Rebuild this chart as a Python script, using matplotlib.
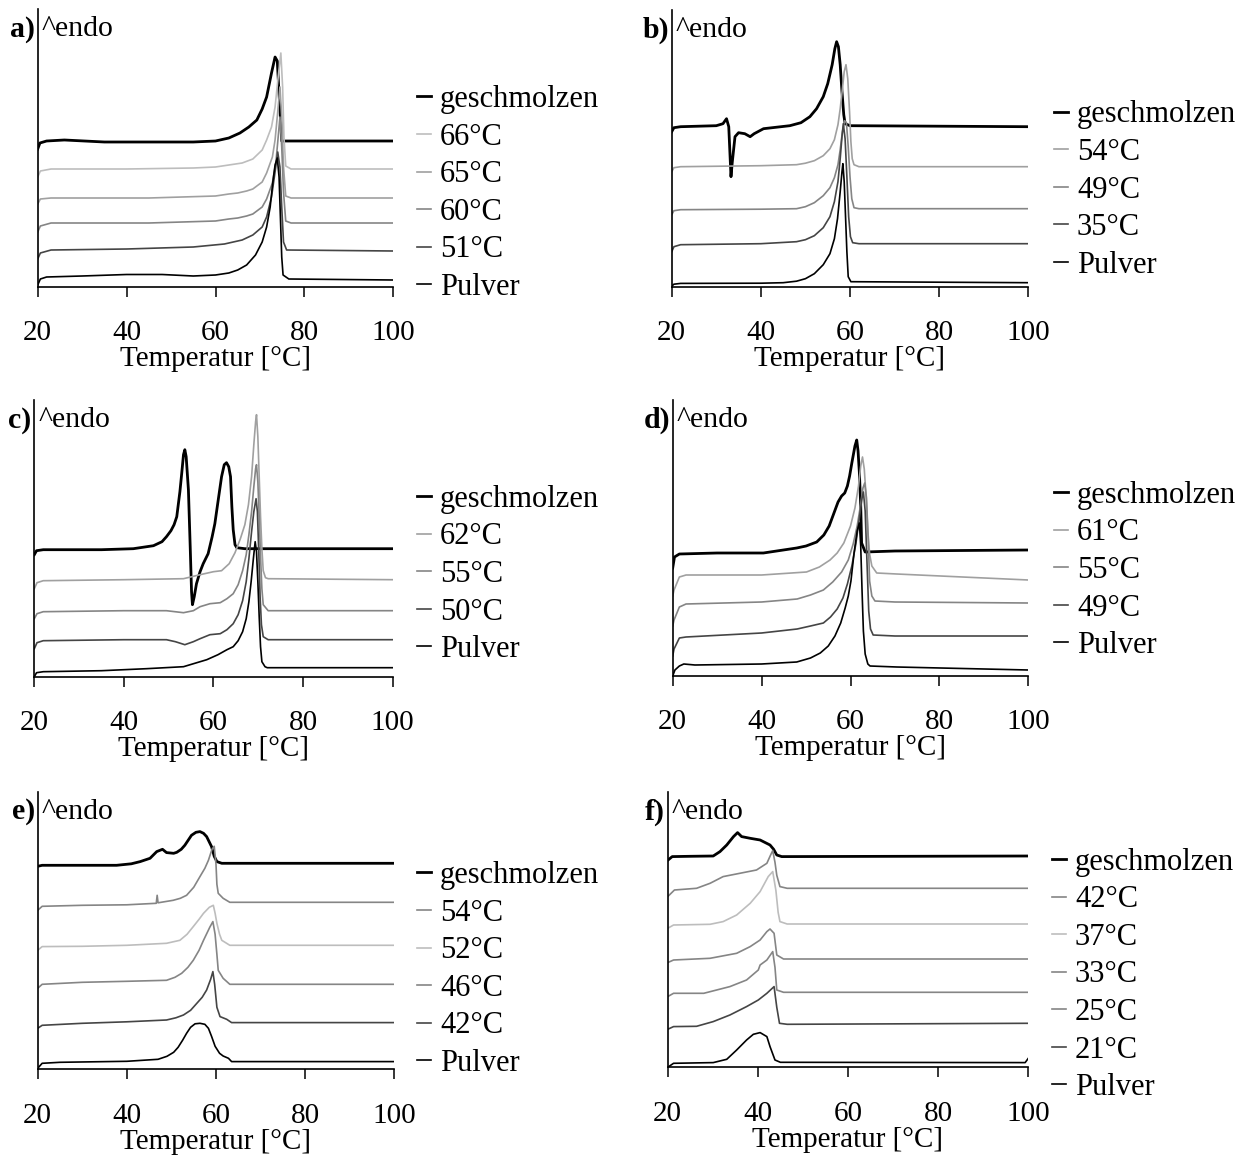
import matplotlib
matplotlib.use('Agg')
import matplotlib.pyplot as plt

plt.rcParams['font.family'] = ['Liberation Serif', 'DejaVu Serif']

# DSC curves: (temperature in degC, signal in arbitrary units)
# panel a
a_labels = ['geschmolzen', '66°C', '65°C', '60°C', '51°C', 'Pulver']
a_geschmolzen = [(20, 138), (20.5, 144), (22, 146), (26, 147), (35, 145), (45, 145), (55, 145), (60, 146),
                 (63, 149), (65.5, 154), (67.5, 160), (69.3, 167), (70.5, 178), (71.5, 190), (72.6, 214),
                 (73.4, 230), (73.9, 226), (74.4, 185), (74.9, 146), (80, 146), (100, 146)]
a_66 = [(20, 110), (20.6, 116), (23, 118), (40, 118), (55, 119), (60, 120), (63, 122), (66, 124), (68.4, 128),
        (70.5, 137), (71.5, 147), (72.6, 160), (73.4, 180), (74.1, 210), (74.7, 234), (75.1, 200), (75.4, 150),
        (75.8, 121), (77, 118), (100, 118)]
a_65 = [(20, 83), (20.6, 88), (23, 89), (45, 89), (60, 91), (63, 93), (65, 94), (67, 96), (68.4, 98), (70.5, 105),
        (71.5, 114), (72.8, 130), (73.4, 147), (74, 175), (74.5, 200), (74.9, 170), (75.3, 120), (75.8, 91),
        (77, 89), (100, 89)]
a_60 = [(20, 55), (20.6, 61), (23, 64), (45, 64), (60, 66), (63, 68), (65, 69), (67, 71), (68.4, 73), (70.5, 80),
        (71.5, 88), (72.8, 104), (73.6, 125), (74.1, 150), (74.5, 170), (74.9, 140), (75.3, 95), (75.8, 66),
        (77, 64), (100, 64)]
a_51 = [(20, 28), (20.6, 34), (23, 37), (40, 38), (55, 40), (62, 43), (64, 45), (66, 47), (68.4, 52), (70.5, 60),
        (71.5, 70), (72.6, 90), (73.4, 115), (74, 135), (74.5, 120), (74.9, 80), (75.3, 45), (76, 37), (100, 36)]
a_pulver = [(20, 2), (20.6, 8), (22, 10), (30, 11), (40, 12.5), (48, 12.5), (55, 11), (60, 12), (63, 14), (65, 17),
            (67, 22), (69, 32), (70.5, 45), (71.5, 60), (72.3, 80), (72.9, 105), (73.4, 122), (73.9, 129),
            (74.3, 110), (74.6, 70), (74.9, 30), (75.2, 12), (76.5, 8), (100, 7)]

# panel b
b_labels = ['geschmolzen', '54°C', '49°C', '35°C', 'Pulver']
b_geschmolzen = [(20, 155), (20.5, 159), (22, 160), (30, 161), (31.5, 163), (32.3, 168), (32.8, 160), (33.1, 130),
                 (33.3, 110), (33.6, 125), (34.2, 150), (35, 154), (36.4, 153), (37.6, 150), (38.5, 153),
                 (40.6, 158), (46.5, 161), (49, 164), (51, 170), (52.5, 178), (54, 190), (55, 203), (56, 222),
                 (56.6, 238), (57.0, 245), (57.4, 240), (57.8, 222), (58.2, 195), (58.6, 172), (58.9, 163),
                 (60, 161), (100, 160)]
b_54 = [(20, 115), (20.5, 119), (22, 120), (40, 121), (48, 122), (50, 123.5), (52, 126), (54, 131), (55.5, 138),
        (56.5, 147), (57.3, 162), (57.8, 178), (58.3, 198), (58.7, 215), (59.1, 222), (59.5, 208), (59.9, 175),
        (60.2, 145), (60.5, 128), (60.9, 122), (62, 120), (100, 120)]
b_49 = [(20, 72), (20.5, 76), (22, 77), (40, 77.5), (48, 78), (50, 80), (52, 84), (54, 91), (55.5, 99),
        (56.5, 109), (57.3, 122), (57.8, 137), (58.3, 155), (58.8, 166), (59.2, 164), (59.6, 140), (60, 110),
        (60.4, 88), (60.9, 79), (62, 78), (100, 78)]
b_35 = [(20, 35), (20.5, 40), (22, 42), (40, 43), (48, 45), (50, 47), (52, 51), (54, 59), (55.5, 70), (56.5, 85),
        (57.3, 105), (57.8, 128), (58.2, 150), (58.5, 163), (58.9, 148), (59.3, 110), (59.7, 70), (60.1, 50),
        (60.6, 44), (62, 43), (100, 43)]
b_pulver = [(20, 0.5), (20.5, 2.5), (22, 3.3), (40, 3.5), (45, 4), (48, 5.5), (50, 8), (52, 13), (54, 22),
            (55.5, 33), (56.5, 48), (57.2, 68), (57.8, 95), (58.2, 115), (58.4, 123), (58.7, 105), (59.0, 70),
            (59.3, 35), (59.6, 10), (60.2, 5), (100, 4)]

# panel c
c_labels = ['geschmolzen', '62°C', '55°C', '50°C', 'Pulver']
c_geschmolzen = [(20, 122), (20.5, 126), (22, 127), (35, 127), (42.1, 128), (46.6, 131), (48.5, 135), (49.5, 140),
                 (50.5, 146), (51.2, 152), (51.8, 160), (52.5, 185), (52.9, 203), (53.3, 222), (53.6, 227),
                 (53.9, 220), (54.4, 187), (54.8, 130), (55.1, 85), (55.3, 72), (55.7, 80), (56.2, 93), (57.0, 105),
                 (57.7, 113), (58.8, 123), (59.7, 140), (60.3, 153), (61.0, 175), (61.8, 200), (62.4, 212),
                 (62.9, 214), (63.4, 210), (63.8, 200), (64.1, 170), (64.4, 147), (64.8, 132), (65.2, 129),
                 (67, 128), (100, 128)]
c_62 = [(20, 88), (20.6, 94), (22, 96), (40, 97), (53.3, 98), (57, 102), (60, 105), (61.8, 106), (63.5, 113),
        (64.8, 124), (66, 138), (67, 152), (67.8, 172), (68.5, 200), (69.0, 232), (69.4, 255), (69.6, 262),
        (69.9, 240), (70.2, 200), (70.5, 160), (70.8, 128), (71.1, 106), (71.6, 99), (72.2, 98), (100, 97)]
c_55 = [(20, 58), (20.6, 63), (22, 65), (40, 66), (49.5, 66), (53.3, 64), (55.5, 66), (57, 70), (59.2, 73),
        (61.5, 74), (63, 78), (64.4, 83), (65.5, 92), (66.5, 106), (67.3, 122), (67.9, 142), (68.5, 165),
        (69.0, 190), (69.4, 208), (69.6, 212), (69.9, 195), (70.2, 160), (70.5, 120), (70.8, 88), (71.1, 72),
        (72.2, 66), (100, 66)]
c_50 = [(20, 28), (20.6, 34), (22, 36), (40, 37), (49.5, 37), (51.5, 35), (53.6, 32), (55.5, 35), (57, 38),
        (59.2, 42), (61.5, 43), (63, 47), (64.4, 53), (65.5, 62), (66.5, 76), (67.3, 95), (67.9, 118), (68.5, 145),
        (69.0, 165), (69.5, 178), (69.8, 165), (70.1, 125), (70.4, 80), (70.7, 52), (71.1, 40), (72.2, 37),
        (100, 37)]
c_pulver = [(20, 0), (20.5, 4), (22, 5), (35, 6), (45, 8), (53.3, 10), (58.5, 17), (61, 22), (63, 27), (64.4, 30),
            (65.5, 36), (66.5, 45), (67.3, 58), (67.9, 75), (68.4, 95), (68.9, 118), (69.3, 135), (69.6, 125),
            (69.9, 95), (70.2, 60), (70.5, 30), (70.8, 15), (71.5, 10), (72, 9), (100, 9)]

# panel d
d_labels = ['geschmolzen', '61°C', '55°C', '49°C', 'Pulver']
d_geschmolzen = [(20, 108), (20.4, 119), (21.5, 122), (30, 123), (40.4, 123), (47.9, 128), (50, 130), (52.4, 134),
                 (54, 141), (55.2, 150), (56.2, 162), (57.2, 174), (58, 180), (58.7, 183), (59.3, 190), (59.8, 200),
                 (60.3, 213), (61.0, 230), (61.4, 236), (61.7, 225), (62.0, 203), (62.3, 170), (62.5, 133),
                 (63.3, 124), (70, 125), (100, 126)]
d_61 = [(20, 80), (20.3, 86), (21.5, 99), (23, 101), (40, 101), (50.1, 104), (53, 109), (55.4, 116), (57, 123),
        (58.5, 133), (60, 150), (61, 168), (61.8, 190), (62.3, 210), (62.7, 219), (63.1, 207), (63.5, 180),
        (63.9, 145), (64.3, 122), (64.8, 110), (65.9, 103), (70.4, 102), (100, 96)]
d_55 = [(20, 50), (20.3, 56), (21.5, 69), (23, 72), (40, 74), (48, 77), (51, 81), (53.9, 86), (56, 94), (58, 104),
        (59.5, 116), (60.6, 132), (61.5, 150), (62.3, 172), (62.8, 188), (63.2, 193), (63.6, 178), (64.0, 135),
        (64.3, 95), (64.8, 80), (65.5, 75), (70, 74), (100, 73)]
d_49 = [(20, 20), (20.3, 27), (21.5, 38), (23, 39), (40, 43), (48, 47), (51, 50), (53.9, 53), (55.5, 59), (57, 67),
        (58.3, 78), (59.3, 92), (60.3, 110), (61.2, 132), (62, 158), (62.6, 178), (62.9, 184), (63.3, 165),
        (63.7, 115), (64.1, 65), (64.5, 47), (65.1, 41), (70, 40), (100, 40)]
d_pulver = [(20, 0), (20.5, 6), (21.5, 10), (22.5, 12), (25, 11), (40, 12), (47.9, 14), (51, 18), (53.2, 23),
            (55, 30), (56.5, 40), (57.8, 53), (58.8, 68), (59.5, 80), (60.1, 95), (60.8, 123), (61.5, 145),
            (62.0, 153), (62.3, 130), (62.6, 85), (62.9, 45), (63.3, 22), (63.9, 12), (64.4, 10), (70.4, 9),
            (100, 6)]

# panel e
e_labels = ['geschmolzen', '54°C', '52°C', '46°C', '42°C', 'Pulver']
e_geschmolzen = [(20, 203), (21, 204), (30, 204), (37.7, 204), (41, 205.5), (43, 207.7), (45.2, 211), (46.7, 217.7),
                 (48.0, 220), (48.9, 216.7), (50.5, 216), (51.2, 217), (52.2, 220), (53, 224), (54.5, 234),
                 (55.5, 237), (56.4, 237.7), (57.2, 236), (57.9, 232.7), (59, 222.7), (59.6, 213), (60.2, 207.7),
                 (61.3, 206), (100, 206)]
e_54 = [(20, 159), (21, 163), (30, 164), (40, 164.5), (46.6, 166), (46.8, 174), (47.0, 166.5), (50.4, 169),
        (52, 171), (53.4, 174), (55, 182), (56.4, 192.7), (57.5, 201), (58.3, 209), (59.1, 220), (59.6, 223),
        (60.0, 205), (60.2, 185), (60.5, 176), (61.6, 171), (63.1, 167), (100, 167)]
e_52 = [(20, 119), (21, 122.7), (30, 123), (40, 124), (48.9, 126), (51.9, 129), (53.5, 135), (54.9, 142.7),
        (56.2, 150), (57.2, 156), (58.5, 162), (59.4, 164), (59.8, 156), (60.2, 146), (60.8, 135), (61.3, 129),
        (63.1, 124), (100, 124)]
e_46 = [(20, 81), (21, 85), (30, 87), (40, 88), (48.9, 89), (50.8, 92), (52.3, 96), (53.7, 102), (54.9, 109),
        (56.2, 119), (57.2, 129), (58.6, 142), (59.3, 147.7), (59.8, 135), (60.2, 115), (60.5, 99), (61.6, 91),
        (63.1, 85), (100, 85)]
e_42 = [(20, 41), (21, 44), (30, 46), (40, 47.5), (48.9, 49.3), (51, 51.5), (52.7, 54.3), (54.3, 59), (55.7, 66),
        (56.9, 72), (57.9, 79.3), (58.8, 90), (59.3, 97.7), (59.7, 85), (60.2, 62), (60.9, 52.7), (62.4, 50),
        (63.5, 46.7), (100, 46.7)]
e_pulver = [(20, 1), (21, 6), (25, 7), (40, 8), (47, 10), (49, 13), (50.5, 17), (51.5, 22), (52.5, 29), (53.4, 36),
            (54.3, 42), (55.3, 45.5), (56.4, 46), (57.5, 45), (58.3, 41), (59.0, 33), (59.8, 23), (60.8, 16),
            (61.6, 13.3), (62.8, 11), (63.5, 7.7), (100, 7.7)]

# panel f
f_labels = ['geschmolzen', '42°C', '37°C', '33°C', '25°C', '21°C', 'Pulver']
f_geschmolzen = [(20, 207), (21, 210.7), (25, 211), (30.1, 211.3), (31.6, 215.7), (33.1, 222.3), (34.6, 230.7),
                 (35.5, 234.7), (36.4, 230.7), (38.3, 229), (40.5, 227.3), (42.7, 222.3), (43.5, 218),
                 (44.2, 212.3), (45.3, 210.7), (100, 211.3)]
f_42 = [(20, 170.7), (21.5, 177.3), (26.4, 179), (29.4, 184), (32.3, 190.7), (36, 194), (39.7, 197.3), (42, 204),
        (42.8, 212), (43.3, 216.7), (43.8, 205), (44.2, 192), (44.9, 180.7), (46.5, 179), (100, 179)]
f_37 = [(20, 139), (21.3, 142.3), (29.4, 143), (32.3, 145.7), (35.3, 152.3), (38.3, 164), (40.5, 175.7),
        (42.3, 190.7), (43.3, 195.7), (44.0, 177), (44.5, 155), (44.9, 145.7), (46.5, 143.3), (100, 143.3)]
f_33 = [(20, 104.7), (21.3, 107.3), (29.4, 109), (35.3, 114), (38.3, 120.7), (40.5, 127.3), (42, 135.7),
        (42.7, 138.3), (43.6, 134), (44.2, 112.3), (45.7, 108.3), (100, 108.3)]
f_25 = [(20, 70.7), (21.3, 74), (28, 74), (33.8, 80.7), (37.5, 87.3), (40.1, 97.3), (40.5, 102.3), (42, 107.3),
        (43.3, 115.7), (43.8, 100), (44.2, 77.3), (45.7, 75), (100, 75)]
f_21 = [(20, 38), (21.3, 40.7), (26.4, 41), (30.1, 45.7), (33.8, 52.3), (37.5, 60.7), (40.1, 67.3), (42, 74),
        (43.6, 80.7), (44.2, 60), (44.8, 44), (46.5, 43), (100, 44)]
f_pulver = [(20, 0), (21.3, 4), (30.1, 4.7), (33.1, 8), (35.3, 17.3), (37.5, 27.3), (39.0, 33), (40.5, 34.7),
            (42, 30.7), (42.7, 20.7), (43.8, 7.3), (45, 5), (99.3, 4.7), (100, 9)]

xticks = [20, 40, 60, 80, 100]

BLACK, LIGHT, MID, GREY, DARK = '#000000', '#bdbdbd', '#a0a0a0', '#858585', '#454545'

W, H = 1241, 1158
# (letter, labels, curves, colours, axes box in px [x20, x100, y_axis, y_top], legend [x, y_centre])
panels = [
    ('a', a_labels, [a_geschmolzen, a_66, a_65, a_60, a_51, a_pulver],
     [BLACK, LIGHT, MID, GREY, DARK, BLACK], (37.7, 393.3, 287, 9), (417, 193.5)),
    ('b', b_labels, [b_geschmolzen, b_54, b_49, b_35, b_pulver],
     [BLACK, MID, GREY, DARK, BLACK], (671.7, 1028.3, 286.7, 10), (1054, 190)),
    ('c', c_labels, [c_geschmolzen, c_62, c_55, c_50, c_pulver],
     [BLACK, MID, GREY, DARK, BLACK], (34.3, 392.7, 676.7, 400), (417, 574.5)),
    ('d', d_labels, [d_geschmolzen, d_61, d_55, d_49, d_pulver],
     [BLACK, MID, GREY, DARK, BLACK], (672.7, 1028.3, 676, 400), (1054, 570.5)),
    ('e', e_labels, [e_geschmolzen, e_54, e_52, e_46, e_42, e_pulver],
     [BLACK, GREY, LIGHT, GREY, DARK, BLACK], (37.7, 394.3, 1069.3, 791.7), (417, 969.5)),
    ('f', f_labels, [f_geschmolzen, f_42, f_37, f_33, f_25, f_21, f_pulver],
     [BLACK, GREY, LIGHT, GREY, GREY, DARK, BLACK], (667.7, 1028.3, 1067.3, 791.7), (1052, 975)),
]

fig = plt.figure(figsize=(W / 100, H / 100), dpi=100)

for letter, labels, curves, colours, box, leg in panels:
    x0, x1, yb, yt = box
    ax = fig.add_axes([x0 / W, (H - yb) / H, (x1 - x0) / W, (yb - yt) / H])
    handles = []
    for i, (lab, pts, col) in enumerate(zip(labels, curves, colours)):
        t, h = zip(*pts)
        lw = 2.0 if i == 0 else 1.2
        ln, = ax.plot(t, h, color=col, lw=lw, label=lab, solid_joinstyle='round')
        handles.append(ln)
    ax.set_xlim(20, 100)
    ax.set_ylim(0, yb - yt)
    ax.set_xticks(xticks)
    ax.set_yticks([])
    for s in ['top', 'right']:
        ax.spines[s].set_visible(False)
    for s in ['left', 'bottom']:
        ax.spines[s].set_linewidth(1.2)
    ax.tick_params(axis='x', direction='out', length=7, width=1.1, pad=17, labelsize=21)
    ax.set_xlabel('Temperatur [°C]', fontsize=21, labelpad=0)
    ax.annotate(letter + ')', xy=(0, 1), xycoords='axes fraction', xytext=(-2, -14.5),
                textcoords='offset points', ha='right', va='center', fontsize=21.5, fontweight='bold')
    ax.annotate('^endo', xy=(0, 1), xycoords='axes fraction', xytext=(3, -14.5),
                textcoords='offset points', ha='left', va='center', fontsize=21.5)
    ax.legend(handles=handles, loc='center left', bbox_to_anchor=(leg[0] / W, 1 - leg[1] / H),
              bbox_transform=fig.transFigure, frameon=False, fontsize=22, handlelength=0.45,
              handletextpad=0.3, labelspacing=0.28, borderpad=0, borderaxespad=0)

fig.savefig('out.png', dpi=100)
